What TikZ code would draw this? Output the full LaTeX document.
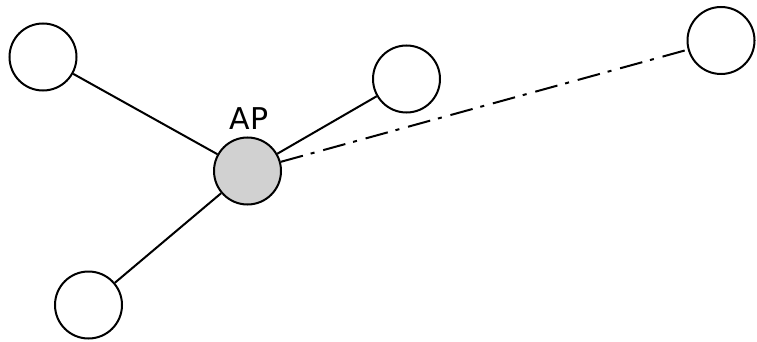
\documentclass[tikz,border=0pt]{standalone}
\usepackage{fontspec}
\setmainfont{DejaVu Sans}
\begin{document}
\begin{tikzpicture}[x=1pt,y=-1pt,
  station/.style={circle,draw=black,line width=2pt,fill=white,minimum size=67pt,inner sep=0pt},
  apnode/.style={station,fill=black!18},
  link/.style={draw=black,line width=2pt},
  farlink/.style={link,dash pattern=on 23pt off 8pt on 4pt off 9pt}]
\useasboundingbox (0,0) rectangle (757,342);
\node[apnode] (ap) at (247.5,171) {};
\node[station] (tl) at (43,57) {};
\node[station] (mr) at (406.5,79) {};
\node[station] (fr) at (721,40.5) {};
\node[station] (bl) at (88.5,305) {};
\node[font=\fontsize{30}{33}\selectfont] (aplabel) at (249,118.5) {AP};
\draw[link] (ap) -- (tl);
\draw[link] (ap) -- (mr);
\draw[link] (ap) -- (bl);
\draw[farlink] (ap) -- (fr);
\end{tikzpicture}
\end{document}
